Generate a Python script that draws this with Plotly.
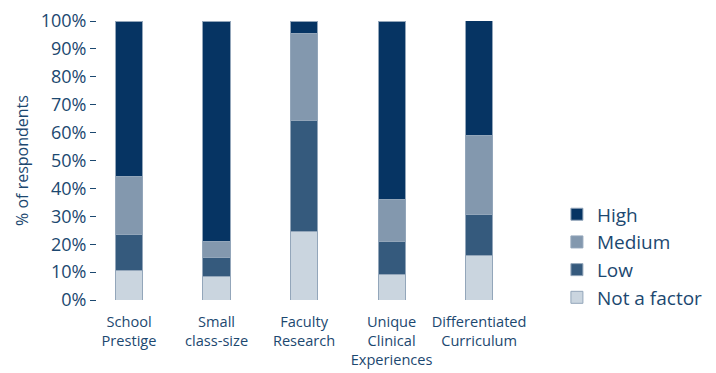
import plotly.graph_objects as go

# Survey factors and share of respondents per importance level (%)
factors = ["School<br>Prestige", "Small<br>class-size", "Faculty<br>Research",
           "Unique<br>Clinical<br>Experiences", "Differentiated<br>Curriculum"]
not_a_factor = [10.4, 8.6, 24.7, 9.2, 16.0]
low = [13.1, 6.6, 39.8, 11.6, 14.8]
medium = [20.9, 5.9, 31.1, 15.3, 28.3]
high = [55.6, 78.9, 4.4, 63.9, 41.4]

series = [
    ("Not a factor", not_a_factor, "#cad5df"),
    ("Low", low, "#355a7d"),
    ("Medium", medium, "#8398ae"),
    ("High", high, "#063463"),
]

TEXT = "#1c4870"
FONT = "Open Sans"

fig = go.Figure()
for name, vals, color in series:
    fig.add_trace(go.Bar(
        x=factors, y=vals, name=name,
        marker=dict(color=color, line=dict(color="#93a6ba", width=1)),
    ))

fig.update_layout(
    width=716, height=373,
    barmode="stack", bargap=0.69,
    paper_bgcolor="white", plot_bgcolor="white",
    margin=dict(l=97, r=0, t=21, b=73),
    font=dict(family=FONT, color=TEXT),
    showlegend=True,
    legend=dict(
        traceorder="reversed",
        x=0.743, xanchor="left", y=0.375, yanchor="top",
        font=dict(size=19, color=TEXT, family=FONT),
        bgcolor="rgba(0,0,0,0)", itemwidth=30, tracegroupgap=0,
    ),
    xaxis=dict(
        domain=[0, 0.688], range=[-0.366, 4.5],
        showline=False, showgrid=False, ticks="", zeroline=False,
        tickangle=0, automargin=False, ticklabelstandoff=11,
        tickfont=dict(size=14.6, color=TEXT, family=FONT),
    ),
    yaxis=dict(
        range=[0, 100], dtick=10, ticksuffix="%", automargin=False,
        showline=False, showgrid=False, zeroline=False,
        ticks="outside", ticklen=6, tickwidth=1, tickcolor=TEXT,
        tickfont=dict(size=18, color=TEXT, family=FONT),
        title=dict(text="% of respondents", font=dict(size=16, color=TEXT, family=FONT),
                   standoff=8),
    ),
)

fig.write_html("out.html")
